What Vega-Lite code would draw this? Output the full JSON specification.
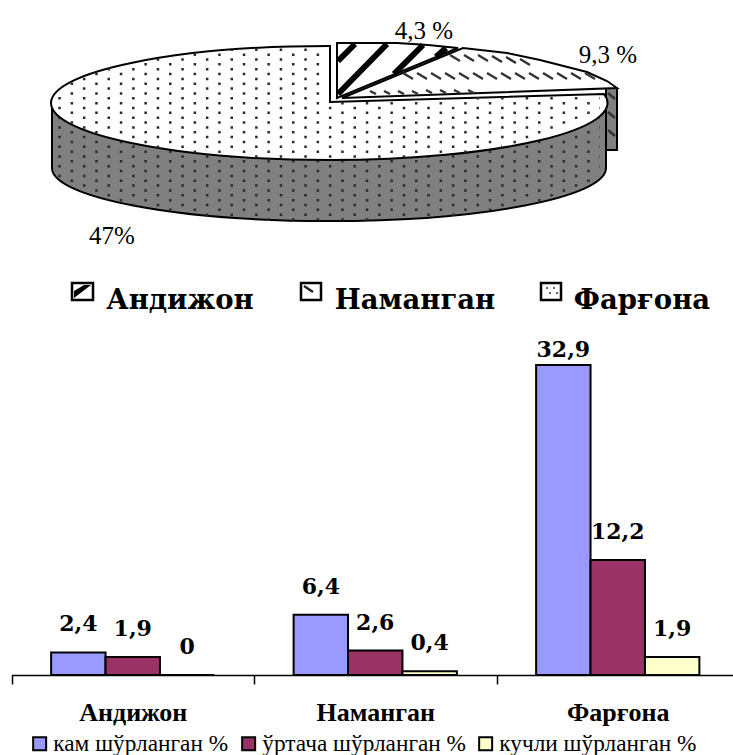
{
"$schema":"https://vega.github.io/schema/vega-lite/v6.json",
"padding":0,
"background":"white",
"spacing":0,
"config":{"view":{"stroke":null},"concat":{"spacing":0}},
"vconcat":[
{
"width":733,"height":325,
"data":{"values":[{"region":"Андижон","percent":4.3,"label":"4,3 %"},{"region":"Наманган","percent":9.3,"label":"9,3 %"},{"region":"Фарғона","percent":47,"label":"47%"}]},
"encoding":{
"x":{"datum":0,"type":"quantitative","scale":{"domain":[0,733],"range":[0,733]},"axis":null},
"y":{"datum":0,"type":"quantitative","scale":{"domain":[0,325],"range":[0,325]},"axis":null}
},
"layer":[
{"transform":[{"filter":"datum.region==='Наманган'"}],"mark":{"type":"point","size":4,"opacity":1,"filled":true,"fill":"#808080","stroke":"black","strokeWidth":2,"shape":"M606 88 L617 88 L617 150 L606 150 Z"}},
{"transform":[{"filter":"datum.region==='Наманган'"}],"mark":{"type":"point","size":4,"opacity":1,"filled":true,"fill":"white","stroke":"black","strokeWidth":2,"shape":"M342 98 L463 48 L507 53 L540 60 L587 72 L607 81 L617 88 Z"}},
{"transform":[{"filter":"datum.region==='Наманган'"}],"mark":{"type":"point","size":4,"opacity":1,"filled":false,"stroke":"#333333","strokeWidth":2.5,"shape":"M450 55 l10 6 M464 55 l10 6 M478 55 l10 6 M492 56 l10 6 M506 57 l10 6 M520 59 l10 6 M403 73 l10 6 M417 73 l10 6 M431 73 l10 6 M445 73 l10 6 M459 73 l10 6 M473 73 l10 6 M487 73 l10 6 M501 73 l10 6 M515 73 l10 6 M529 73 l10 6 M543 73 l10 6 M557 73 l10 6 M571 73 l10 6 M585 73 l10 6 M370 91 l6 3 M384 91 l6 3 M398 91 l6 3 M412 91 l6 3 M426 90 l6 3 M440 90 l6 3 M454 90 l6 3 M468 90 l6 3 M608 93 l7 6 M608 112 l7 6 M608 130 l7 6"}},
{"transform":[{"filter":"datum.region==='Андижон'"}],"mark":{"type":"point","size":4,"opacity":1,"filled":true,"fill":"white","strokeWidth":0,"shape":"M337 98 L337 43 L397 43 L428 45 L458 48 Z"}},
{"transform":[{"filter":"datum.region==='Андижон'"}],"mark":{"type":"point","size":4,"opacity":1,"filled":false,"stroke":"black","strokeWidth":6,"shape":"M338 61 L355 44 M338 94 L387 44 M394 74 L423 45 M436 57 L446 48"}},
{"transform":[{"filter":"datum.region==='Андижон'"}],"mark":{"type":"point","size":4,"opacity":1,"filled":false,"stroke":"black","strokeWidth":2,"shape":"M337 98 L337 43 L397 43 L428 45 L458 48 Z"}},
{"transform":[{"filter":"datum.region==='Фарғона'"}],"mark":{"type":"point","size":4,"opacity":1,"filled":true,"fill":"#808080","stroke":"black","strokeWidth":2,"shape":"M52 103 L52 168 A277 53 0 0 0 329 221 A277 53 0 0 0 606 168 L606 103 Z"}},
{"transform":[{"filter":"datum.region==='Фарғона'"}],"mark":{"type":"point","size":4,"opacity":1,"filled":false,"stroke":"#2a2a2a","strokeWidth":2.5,"strokeDash":[2.5,22.1],"shape":"M70.6 103.15 H600 M58.3 108 H600 M70.6 112.85 H600 M58.3 117.7 H600 M70.6 122.55 H600 M58.3 127.4 H600 M70.6 132.25 H600 M58.3 137.1 H600 M70.6 141.95 H600 M58.3 146.8 H600 M70.6 151.65 H600 M58.3 156.5 H600 M70.6 161.35 H600 M58.3 166.2 H600 M70.6 171.05 H600 M58.3 175.9 H598 M70.6 180.75 H594 M82.9 185.6 H586 M95.2 190.45 H576 M107.5 195.3 H562 M119.8 200.15 H545 M132.1 205 H524 M169 209.85 H495 M205.9 214.7 H456 M267.4 219.55 H390"}},
{"transform":[{"filter":"datum.region==='Фарғона'"}],"mark":{"type":"point","size":4,"opacity":1,"filled":true,"fill":"white","stroke":"black","strokeWidth":2,"shape":"M330 102 L604 94 A278 57 0 0 1 329 160 A278 57 0 0 1 51 103 A278 57 0 0 1 329 46 L330 46 Z"}},
{"transform":[{"filter":"datum.region==='Фарғона'"}],"mark":{"type":"point","size":4,"opacity":1,"filled":false,"stroke":"#2a2a2a","strokeWidth":2.5,"strokeDash":[2.5,22.1],"shape":"M230.5 49.8 H328 M193.6 54.65 H328 M156.7 59.5 H328 M144.4 64.35 H328 M107.5 69.2 H328 M95.2 74.05 H328 M82.9 78.9 H328 M70.6 83.75 H328 M82.9 88.6 H328 M70.6 93.45 H328 M58.3 98.3 H328 M476.5 98.3 H600 M70.6 103.15 H600 M58.3 108 H600 M70.6 112.85 H598 M82.9 117.7 H592 M70.6 122.55 H585 M82.9 127.4 H575 M95.2 132.25 H562 M132.1 137.1 H546 M144.4 141.95 H527 M156.7 146.8 H502 M193.6 151.65 H469 M255.1 156.5 H420"}},
{"transform":[{"filter":"datum.region==='Андижон'"}],"mark":{"type":"text","font":"Liberation Serif","fontSize":25,"color":"black","align":"center"},"encoding":{"x":{"datum":424,"type":"quantitative","axis":null},"y":{"datum":31,"type":"quantitative","axis":null},"text":{"field":"label"}}},
{"transform":[{"filter":"datum.region==='Наманган'"}],"mark":{"type":"text","font":"Liberation Serif","fontSize":25,"color":"black","align":"center"},"encoding":{"x":{"datum":608,"type":"quantitative","axis":null},"y":{"datum":55,"type":"quantitative","axis":null},"text":{"field":"label"}}},
{"transform":[{"filter":"datum.region==='Фарғона'"}],"mark":{"type":"text","font":"Liberation Serif","fontSize":25,"color":"black","align":"center"},"encoding":{"x":{"datum":112,"type":"quantitative","axis":null},"y":{"datum":236,"type":"quantitative","axis":null},"text":{"field":"label"}}},
{"transform":[{"filter":"datum.region==='Андижон'"}],"mark":{"type":"point","size":4,"opacity":1,"filled":true,"fill":"white","stroke":"black","strokeWidth":2.5,"shape":"M72 283 H93 V300 H72 Z"}},
{"transform":[{"filter":"datum.region==='Андижон'"}],"mark":{"type":"point","size":4,"opacity":1,"filled":true,"fill":"black","strokeWidth":0,"shape":"M74 298 L74 291 L84 285 L91 285 Z"}},
{"transform":[{"filter":"datum.region==='Наманган'"}],"mark":{"type":"point","size":4,"opacity":1,"filled":true,"fill":"white","stroke":"black","strokeWidth":2.5,"shape":"M301 283 H321 V300 H301 Z"}},
{"transform":[{"filter":"datum.region==='Наманган'"}],"mark":{"type":"point","size":4,"opacity":1,"filled":false,"stroke":"#222222","strokeWidth":2.5,"shape":"M304 286 l9 6"}},
{"transform":[{"filter":"datum.region==='Фарғона'"}],"mark":{"type":"point","size":4,"opacity":1,"filled":true,"fill":"white","stroke":"black","strokeWidth":2.5,"shape":"M541 283 H561 V300 H541 Z"}},
{"transform":[{"filter":"datum.region==='Фарғона'"}],"mark":{"type":"point","size":4,"opacity":1,"filled":false,"stroke":"#333333","strokeWidth":1.5,"shape":"M546 288 h2 M553 288 h2 M549 293 h2 M556 293 h2"}},
{"transform":[{"filter":"datum.region==='Андижон'"}],"mark":{"type":"text","font":"DejaVu Serif","fontWeight":"bold","fontSize":27.5,"color":"black","align":"center"},"encoding":{"x":{"datum":180,"type":"quantitative","axis":null},"y":{"datum":301,"type":"quantitative","axis":null},"text":{"field":"region"}}},
{"transform":[{"filter":"datum.region==='Наманган'"}],"mark":{"type":"text","font":"DejaVu Serif","fontWeight":"bold","fontSize":27.5,"color":"black","align":"center"},"encoding":{"x":{"datum":415,"type":"quantitative","axis":null},"y":{"datum":301,"type":"quantitative","axis":null},"text":{"field":"region"}}},
{"transform":[{"filter":"datum.region==='Фарғона'"}],"mark":{"type":"text","font":"DejaVu Serif","fontWeight":"bold","fontSize":27.5,"color":"black","align":"center"},"encoding":{"x":{"datum":642,"type":"quantitative","axis":null},"y":{"datum":301,"type":"quantitative","axis":null},"text":{"field":"region"}}}
]
},
{
"width":733,"height":350,
"data":{"values":[
{"region":"Андижон","series":"кам шўрланган %","value":2.4,"label":"2,4"},
{"region":"Андижон","series":"ўртача шўрланган %","value":1.9,"label":"1,9"},
{"region":"Андижон","series":"кучли  шўрланган %","value":0,"label":"0"},
{"region":"Наманган","series":"кам шўрланган %","value":6.4,"label":"6,4"},
{"region":"Наманган","series":"ўртача шўрланган %","value":2.6,"label":"2,6"},
{"region":"Наманган","series":"кучли  шўрланган %","value":0.4,"label":"0,4"},
{"region":"Фарғона","series":"кам шўрланган %","value":32.9,"label":"32,9"},
{"region":"Фарғона","series":"ўртача шўрланган %","value":12.2,"label":"12,2"},
{"region":"Фарғона","series":"кучли  шўрланган %","value":1.9,"label":"1,9"}
]},
"encoding":{
"x":{"field":"region","type":"nominal","sort":["Андижон","Наманган","Фарғона"],"title":null,
"scale":{"range":[11.5,739],"paddingInner":0,"paddingOuter":0},
"axis":{"labelAngle":0,"labelFont":"Liberation Serif","labelFontWeight":"bold","labelFontSize":26,"labelColor":"black","labelPadding":15,"domainColor":"black","domainWidth":1.5,"tickColor":"black","tickWidth":1.5,"tickSize":9,"tickBand":"extent","grid":false}},
"xOffset":{"field":"series","type":"nominal","sort":["кам шўрланган %","ўртача шўрланган %","кучли  шўрланган %"],"scale":{"domain":["кам шўрланган %","ўртача шўрланган %","кучли  шўрланган %"],"paddingInner":0,"paddingOuter":0.728}},
"y":{"field":"value","type":"quantitative","scale":{"domain":[0,37.15],"nice":false,"zero":true},"axis":null}
},
"layer":[
{"mark":{"type":"bar","stroke":"black","strokeWidth":2},
"encoding":{"color":{"field":"series","type":"nominal","sort":["кам шўрланган %","ўртача шўрланган %","кучли  шўрланган %"],
"scale":{"domain":["кам шўрланган %","ўртача шўрланган %","кучли  шўрланган %"],"range":["#9999FF","#993366","#FFFFCC"]},
"legend":{"orient":"none","legendX":28,"legendY":732,"direction":"horizontal","columns":3,"title":null,"symbolType":"square","symbolSize":169,"symbolStrokeWidth":2,"symbolStrokeColor":"black","symbolOpacity":1,"labelFont":"Liberation Serif","labelFontSize":23.3,"labelColor":"black","labelOffset":2,"labelLimit":300,"columnPadding":8}}}},
{"transform":[{"filter":"datum.value<30"}],"mark":{"type":"text","font":"DejaVu Serif","fontWeight":"bold","fontSize":22,"color":"black","align":"center","dy":-21,"baseline":"alphabetic"},"encoding":{"text":{"field":"label"}}},
{"transform":[{"filter":"datum.value>=30"}],"mark":{"type":"text","font":"DejaVu Serif","fontWeight":"bold","fontSize":22,"color":"black","align":"center","dy":-8,"baseline":"alphabetic"},"encoding":{"text":{"field":"label"}}}
]
}
]
}
